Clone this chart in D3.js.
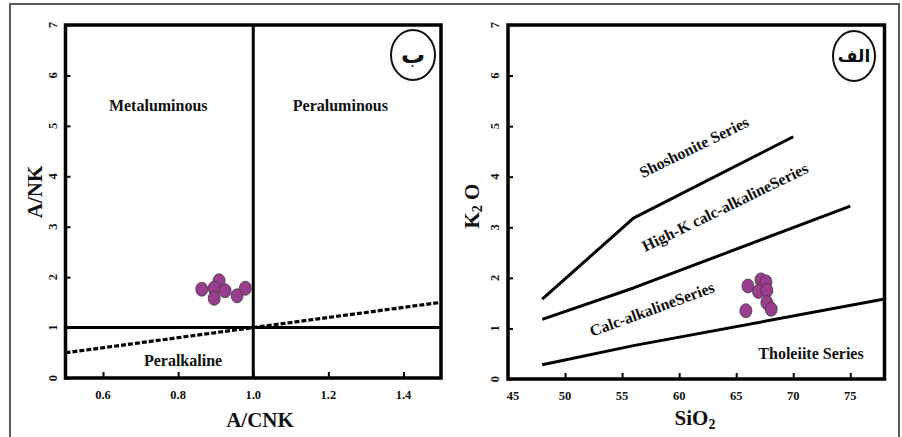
<!DOCTYPE html>
<html><head><meta charset="utf-8">
<script src="https://cdn.jsdelivr.net/npm/d3@7"></script>
<style>
html,body{margin:0;padding:0;background:#fff;}
svg{display:block;}
text{font-family:"Liberation Serif","Times New Roman",serif;font-weight:bold;fill:#111;}
</style></head>
<body>
<svg id="c" width="902" height="437"></svg>
<script>
// ---------- Data ----------
// Left panel: A/CNK vs A/NK
const leftXTicks = [0.6, 0.8, 1.0, 1.2, 1.4];
const leftYTicks = [0, 1, 2, 3, 4, 5, 6, 7];
const leftACNK = [0.863, 0.909, 0.896, 0.896, 0.925, 0.957, 0.979];
const leftANK  = [1.76, 1.93, 1.78, 1.58, 1.73, 1.63, 1.78];
const leftRegions = ["Metaluminous", "Peraluminous", "Peralkaline"];
const leftRegionPos = [[0.747, 5.4], [1.232, 5.4], [0.813, 0.34]];
const leftDashed = [[0.5, 0.5], [1.5, 1.5]];
// Right panel: SiO2 vs K2O
const rightXTicks = [50, 55, 60, 65, 70, 75];
const rightXLabels = [45, 50, 55, 60, 65, 70, 75];
const rightYTicks = [0, 1, 2, 3, 4, 5, 6, 7];
const rightSiO2 = [66.03, 67.17, 67.61, 66.96, 67.69, 67.69, 68.07, 65.85];
const rightK2O  = [1.84, 1.96, 1.92, 1.73, 1.75, 1.51, 1.38, 1.35];
const shoshoniteLine = [[48, 1.58], [56, 3.18], [70, 4.79]];
const highKLine = [[48, 1.18], [56, 1.8], [75, 3.42]];
const tholeiiteLine = [[48, 0.28], [56, 0.66], [78, 1.58]];
const seriesLabels = ["Shoshonite Series", "High-K calc-alkalineSeries", "Calc-alkalineSeries", "Tholeiite Series"];

const svg = d3.select("#c");
const purple = "#9a3d8e";

// outer border
svg.append("rect").attr("x", 10).attr("y", 4).attr("width", 889).attr("height", 445)
  .attr("fill", "none").attr("stroke", "#5a5a5a").attr("stroke-width", 2);

function panel(cfg) {
  const g = svg.append("g");
  const x = d3.scaleLinear().domain(cfg.xd).range(cfg.xr);
  const y = d3.scaleLinear().domain([0, 7]).range(cfg.yr);
  const xa = d3.axisTop(x).tickValues(cfg.xTicks).tickSize(6).tickFormat("");
  g.append("g").attr("transform", `translate(0,${cfg.yr[0]})`).call(xa)
    .call(s => { s.select(".domain").remove(); s.selectAll("line").attr("stroke", "#000").attr("stroke-width", 2); });
  const ya = d3.axisRight(y).tickValues(cfg.yTicks).tickSize(5).tickFormat("");
  g.append("g").attr("transform", `translate(${cfg.xr[0]},0)`).call(ya)
    .call(s => { s.select(".domain").remove(); s.selectAll("line").attr("stroke", "#000").attr("stroke-width", 2); });
  g.selectAll(".xl").data(cfg.xLabels).enter().append("text")
    .attr("x", d => x(d) + (d === cfg.xd[0] ? 5 : 0)).attr("y", cfg.yr[0] + 21)
    .attr("text-anchor", "middle").attr("font-size", 12.5)
    .text(d => cfg.fmt(d));
  g.selectAll(".yl").data(cfg.yTicks).enter().append("text")
    .attr("transform", d => `translate(${cfg.xr[0] - 9},${y(d)}) rotate(-90)`)
    .attr("text-anchor", "middle").attr("font-size", 12.5)
    .text(d => d);
  return {g, x, y};
}

// ---------- Left panel ----------
const L = panel({xd: [0.5, 1.5], xr: [65.5, 441], yr: [378, 25],
  xTicks: leftXTicks, xLabels: leftXTicks, yTicks: leftYTicks, fmt: d3.format(".1f")});
const lineGen = (P) => d3.line().x(d => P.x(d[0])).y(d => P.y(d[1]));
L.g.append("line").attr("x1", L.x(1.0)).attr("x2", L.x(1.0)).attr("y1", L.y(0)).attr("y2", L.y(7))
  .attr("stroke", "#000").attr("stroke-width", 3);
L.g.append("line").attr("x1", L.x(0.5)).attr("x2", L.x(1.5)).attr("y1", L.y(1)).attr("y2", L.y(1))
  .attr("stroke", "#000").attr("stroke-width", 3);
L.g.append("path").attr("d", lineGen(L)(leftDashed)).attr("fill", "none")
  .attr("stroke", "#000").attr("stroke-width", 3.2).attr("stroke-dasharray", "5,2");
L.g.selectAll(".rl").data(leftRegions).enter().append("text")
  .attr("x", (d, i) => L.x(leftRegionPos[i][0])).attr("y", (d, i) => L.y(leftRegionPos[i][1]))
  .attr("text-anchor", "middle").attr("dominant-baseline", "central").attr("font-size", 16).text(d => d);
L.g.selectAll(".pt").data(leftACNK).enter().append("ellipse")
  .attr("cx", d => L.x(d)).attr("cy", (d, i) => L.y(leftANK[i])).attr("rx", 6).attr("ry", 7)
  .attr("fill", purple).attr("stroke", "#3a3a3a").attr("stroke-width", 0.8);
L.g.append("rect").attr("x", 65.5).attr("y", 25).attr("width", 375.5).attr("height", 353)
  .attr("fill", "none").attr("stroke", "#000").attr("stroke-width", 3.5);
L.g.append("ellipse").attr("cx", 413).attr("cy", 55).attr("rx", 22).attr("ry", 25)
  .attr("fill", "#fff").attr("stroke", "#111").attr("stroke-width", 2);
L.g.append("text").attr("x", 413).attr("y", 55).attr("text-anchor", "middle").attr("dominant-baseline", "central")
  .style("font-family", "'DejaVu Sans', 'Noto Sans', sans-serif").attr("font-size", 24).attr("font-weight", "normal").text("ب");
svg.append("text").attr("transform", "translate(35,192) rotate(-90)").attr("text-anchor", "middle")
  .attr("dominant-baseline", "central").attr("font-size", 21).text("A/NK");
svg.append("text").attr("x", 260).attr("y", 420).attr("text-anchor", "middle")
  .attr("dominant-baseline", "central").attr("font-size", 21).text("A/CNK");

// ---------- Right panel ----------
const R = panel({xd: [45, 78], xr: [508, 884.5], yr: [379, 25],
  xTicks: rightXTicks, xLabels: rightXLabels, yTicks: rightYTicks, fmt: d => d});
[shoshoniteLine, highKLine, tholeiiteLine].forEach(l => {
  R.g.append("path").attr("d", lineGen(R)(l)).attr("fill", "none")
    .attr("stroke", "#000").attr("stroke-width", 3).attr("stroke-linejoin", "round");
});
const labPos = [[694, 147, -26], [725, 207, -26], [652, 309, -20], [811, 353, 0]];
R.g.selectAll(".sl").data(seriesLabels).enter().append("text")
  .attr("transform", (d, i) => `translate(${labPos[i][0]},${labPos[i][1]}) rotate(${labPos[i][2]})`)
  .attr("text-anchor", "middle").attr("dominant-baseline", "central").attr("font-size", 16).text(d => d);
R.g.selectAll(".pt").data(rightSiO2).enter().append("ellipse")
  .attr("cx", d => R.x(d)).attr("cy", (d, i) => R.y(rightK2O[i])).attr("rx", 6).attr("ry", 7)
  .attr("fill", purple).attr("stroke", "#3a3a3a").attr("stroke-width", 0.8);
R.g.append("rect").attr("x", 508).attr("y", 25).attr("width", 376.5).attr("height", 354)
  .attr("fill", "none").attr("stroke", "#000").attr("stroke-width", 3.5);
R.g.append("ellipse").attr("cx", 854).attr("cy", 56).attr("rx", 21).attr("ry", 25)
  .attr("fill", "#fff").attr("stroke", "#111").attr("stroke-width", 2);
R.g.append("text").attr("x", 854).attr("y", 56).attr("text-anchor", "middle").attr("dominant-baseline", "central")
  .style("font-family", "'DejaVu Sans', 'Noto Sans', sans-serif").attr("font-size", 17).attr("font-weight", "bold").text("الف");
const k = svg.append("text").attr("transform", "translate(472,206) rotate(-90)").attr("text-anchor", "middle")
  .attr("dominant-baseline", "central").attr("font-size", 21);
k.append("tspan").text("K");
k.append("tspan").attr("font-size", 14).attr("dy", 5).text("2");
k.append("tspan").attr("dy", -5).text(" O");
const s = svg.append("text").attr("x", 695).attr("y", 418).attr("text-anchor", "middle")
  .attr("dominant-baseline", "central").attr("font-size", 21);
s.append("tspan").text("SiO");
s.append("tspan").attr("font-size", 14).attr("dy", 6).text("2");
</script>
</body></html>
